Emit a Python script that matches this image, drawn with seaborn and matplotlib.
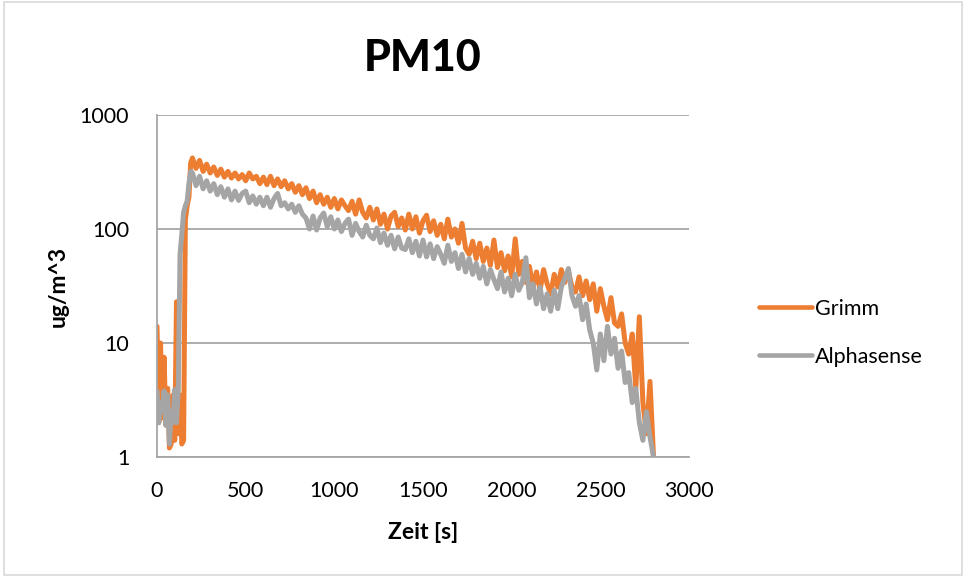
import numpy as np
import pandas as pd
import matplotlib
matplotlib.use("Agg")
import matplotlib.pyplot as plt
import seaborn as sns
from matplotlib.patches import Rectangle
from matplotlib.ticker import FixedLocator, NullLocator, FixedFormatter

# ---- data ----
t_start = [0, 10, 20, 30, 40, 50, 60, 70, 80, 90, 100, 110, 120, 130, 140, 150, 160, 170, 180, 190]
t_main = list(range(200, 2801, 20))
time_s = t_start + t_main

grimm_start = [14, 2.0, 10, 2.2, 7.5, 1.9, 4.0, 1.2, 1.3, 3.5, 1.4, 23, 1.6, 3.5, 1.3, 1.4, 120, 160, 190, 380]
grimm_main = [
    420, 340, 400, 320, 370, 310, 350, 295, 335, 285,
    320, 280, 310, 275, 300, 265, 310, 275, 290, 250,
    285, 245, 290, 240, 275, 235, 265, 225, 250, 210,
    240, 200, 230, 185, 215, 170, 200, 165, 190, 155,
    185, 150, 180, 160, 145, 175, 135, 180, 140, 125,
    155, 120, 150, 110, 135, 100, 130, 140, 105, 125,
    98, 135, 100, 128, 92, 118, 132, 95, 118, 88,
    110, 82, 122, 85, 100, 75, 112, 68, 60, 78,
    55, 75, 52, 68, 48, 80, 46, 62, 43, 58,
    38, 82, 40, 52, 34, 47, 31, 42, 29, 44,
    33, 27, 40, 31, 44, 34, 43, 31, 28, 38,
    26, 35, 24, 33, 19, 30, 21, 16, 25, 15,
    14, 18, 10, 8, 12, 4, 17, 3, 1.6, 4.6,
    1.0,
]
grimm = grimm_start + grimm_main

alpha_start = [3.8, 2.0, 3.0, 2.5, 3.8, 1.9, 3.5, 1.3, 2.5, 2.0, 3.9, 2.0, 4.0, 60, 90, 140, 160, 175, 250, 320]
alpha_main = [
    310, 240, 290, 225, 265, 215, 250, 200, 235, 190,
    225, 180, 215, 178, 205, 215, 170, 195, 165, 190,
    160, 190, 155, 185, 205, 160, 170, 150, 165, 140,
    160, 135, 125, 100, 130, 98, 125, 138, 105, 128,
    100, 120, 95, 112, 122, 88, 112, 95, 85, 108,
    88, 82, 102, 76, 92, 72, 88, 67, 85, 68,
    66, 82, 62, 78, 58, 80, 57, 74, 55, 70,
    60, 50, 72, 52, 62, 45, 60, 42, 55, 40,
    50, 37, 47, 33, 44, 36, 30, 42, 28, 37,
    26, 40, 29, 34, 56, 25, 33, 22, 31, 20,
    27, 19, 29, 20, 31, 37, 45, 26, 21, 26,
    16, 22, 13, 10, 5.8, 12, 7, 14, 8, 11,
    6, 8.5, 4.5, 5.5, 3, 4, 2, 1.4, 2.5, 1.5,
    1.0,
]
alphasense = alpha_start + alpha_main

series_names = ["Grimm", "Alphasense"]
colors = ["#ED7D31", "#A5A5A5"]
x_ticks = [0, 500, 1000, 1500, 2000, 2500, 3000]
y_ticks = [1, 10, 100, 1000]
y_tick_labels = ["1", "10", "100", "1000"]

df = pd.DataFrame({
    "Zeit": time_s * 2,
    "Wert": grimm + alphasense,
    "Serie": [series_names[0]] * len(grimm) + [series_names[1]] * len(alphasense),
})

sns.set_theme(style="white")
plt.rcParams["font.family"] = ["Lato", "DejaVu Sans"]
plt.rcParams["text.color"] = "black"
plt.rcParams["axes.labelcolor"] = "black"

fig = plt.figure(figsize=(9.66, 5.78), dpi=100)
ax = fig.add_axes([157 / 966, 1 - 457 / 578, (689 - 157) / 966, (457 - 115) / 578])

sns.lineplot(data=df, x="Zeit", y="Wert", hue="Serie", hue_order=series_names,
             palette=colors, linewidth=3.6, ax=ax, estimator=None, sort=False)
for ln in ax.get_lines():
    ln.set_solid_joinstyle("round")
    ln.set_solid_capstyle("round")

ax.set_yscale("log")
ax.set_ylim(1, 1000)
ax.set_xlim(0, 3000)
ax.yaxis.set_major_locator(FixedLocator(y_ticks))
ax.yaxis.set_major_formatter(FixedFormatter(y_tick_labels))
ax.yaxis.set_minor_locator(NullLocator())
ax.set_xticks(x_ticks)
ax.set_xticklabels([str(v) for v in x_ticks])

grid_c = "#A6A6A6"
ax.grid(axis="y", color=grid_c, linewidth=1.3)
ax.grid(axis="x", visible=False)
for s in ["top", "right"]:
    ax.spines[s].set_visible(False)
for s in ["left", "bottom"]:
    ax.spines[s].set_color(grid_c)
    ax.spines[s].set_linewidth(1.3)
ax.tick_params(axis="both", which="major", direction="out", length=5, width=1.3,
               color=grid_c, labelsize=15.5, labelcolor="black", pad=12)
ax.tick_params(axis="y", pad=15)

ax.set_title("PM10", fontsize=31, fontweight="black", color="black", pad=32)
ax.set_xlabel("Zeit [s]", fontsize=16.5, fontweight="bold")
ax.xaxis.set_label_coords(0.5, -0.19)
ax.set_ylabel("ug/m^3", fontsize=16.5, fontweight="bold")
ax.yaxis.set_label_coords(-0.166, 0.5)

leg = ax.legend(loc="center left", bbox_to_anchor=(740 / 966, 1 - 333 / 578),
                bbox_transform=fig.transFigure, frameon=False, fontsize=15.5,
                handlelength=2.45, labelspacing=1.3, handletextpad=0.15)
for txt in leg.get_texts():
    txt.set_color("black")
for line in leg.get_lines():
    line.set_linewidth(3.3)

fig.patches.append(Rectangle((0.004, 0.006), 0.992, 0.99, transform=fig.transFigure,
                             fill=False, edgecolor="#D9D9D9", linewidth=1.2))

fig.savefig("out.png", dpi=100, facecolor="white")
